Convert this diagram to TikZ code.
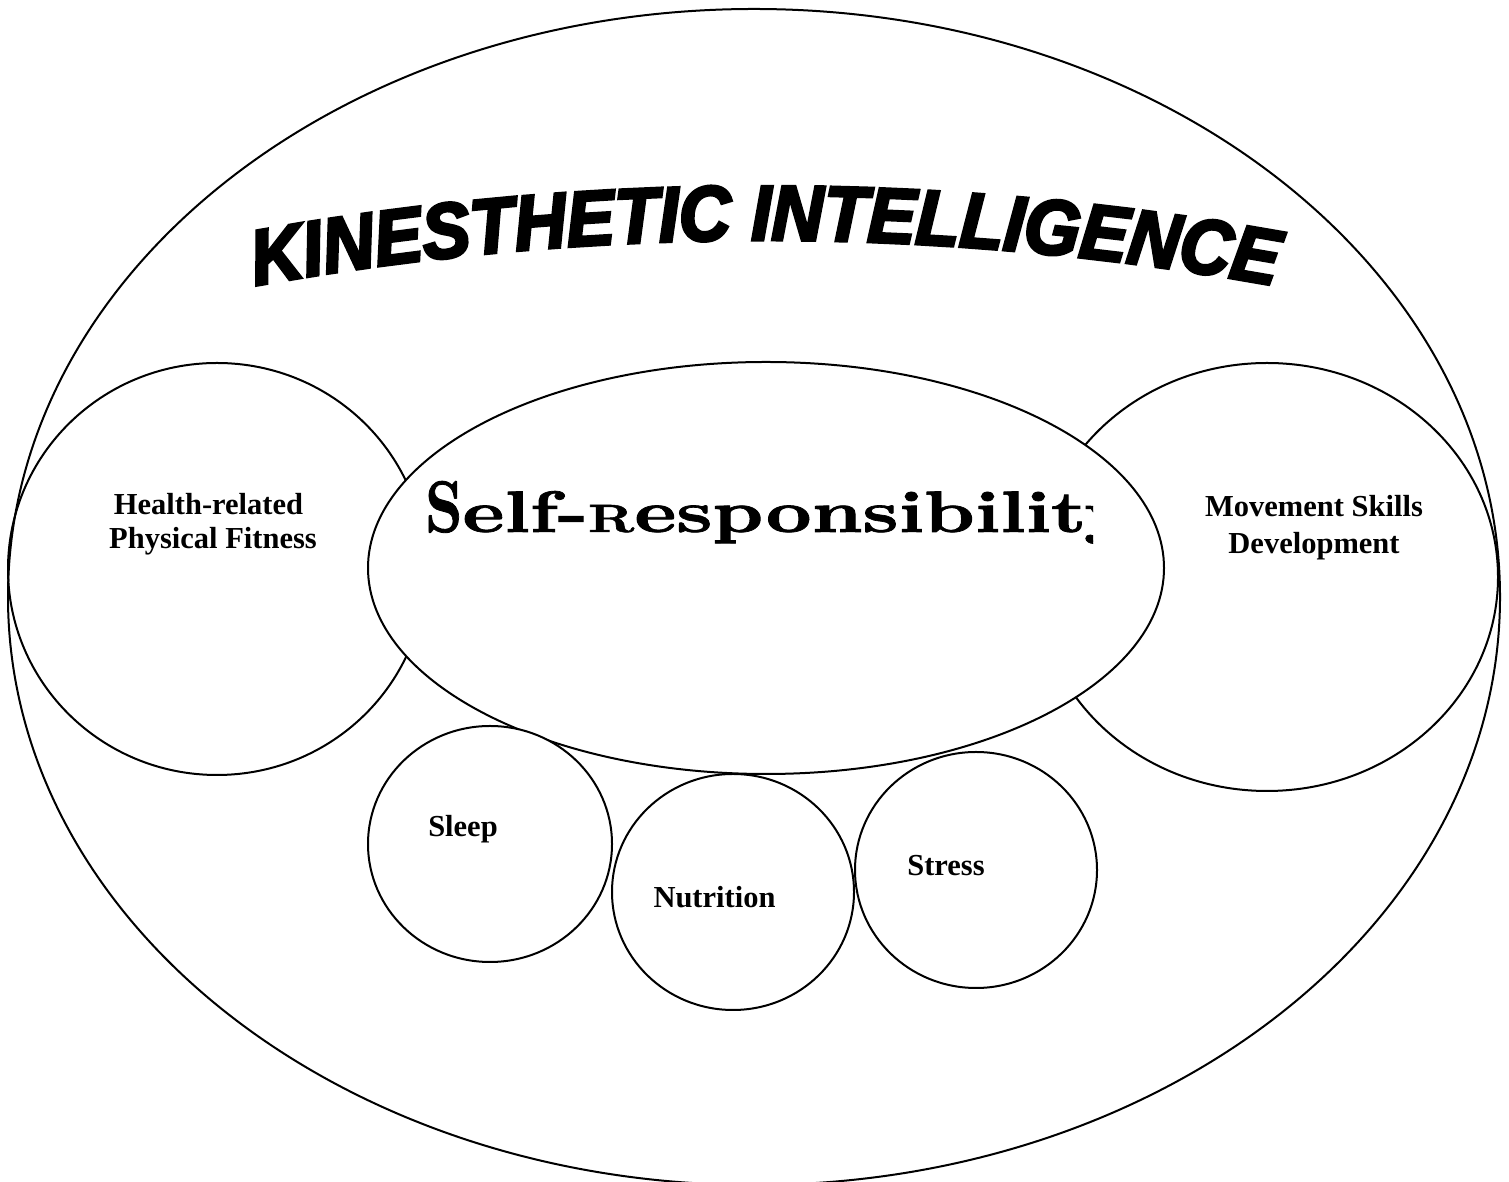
\documentclass[tikz,border=0pt]{standalone}
\usepackage{fontspec}
\usepackage{graphicx}
\usetikzlibrary{shapes.geometric,decorations.text}
\newfontfamily\lblfont{Liberation Serif}
\newfontfamily\kifont{Liberation Sans}[FakeBold=4, FakeStretch=0.92]
\newfontfamily\srfont{lmroman10-bold.otf}[FakeBold=1.2]
\begin{document}
\begin{tikzpicture}[x=1pt,y=1pt,
  ring/.style={draw, line width=2pt, ellipse, inner sep=0pt, outer sep=0pt},
  disc/.style={ring, fill=white},
  lbl/.style={font=\lblfont\bfseries\fontsize{30.5}{36}\selectfont, inner sep=0pt, anchor=base},
]
\useasboundingbox (0,0) rectangle (1509,1182);
\fill[white] (0,0) rectangle (1509,1182);

% outer field
\node[ring, minimum width=1492pt, minimum height=1176pt] (kinesthetic) at (754,585) {};

% side components
\node[ring, minimum width=418pt, minimum height=412pt] (fitness) at (217,613) {};
\node[ring, minimum width=462pt, minimum height=428pt] (movement) at (1267,605) {};

% core
\node[disc, minimum width=796pt, minimum height=412pt] (core) at (766,614) {};

% lifestyle factors
\node[disc, minimum width=244pt, minimum height=236pt] (sleep) at (490,338) {};
\node[disc, minimum width=242pt, minimum height=236pt] (nutrition) at (733,290) {};
\node[disc, minimum width=242pt, minimum height=236pt] (stress) at (976,312) {};

% labels
\node[lbl] (fitnessA) at (208.5,667) {Health-related};
\node[lbl] (fitnessB) at (213,633) {Physical Fitness};
\node[lbl] (movementA) at (1314,665) {Movement Skills};
\node[lbl] (movementB) at (1314,628) {Development};
\node[lbl] (sleepL) at (463,345) {Sleep};
\node[lbl] (nutritionL) at (714.5,274) {Nutrition};
\node[lbl] (stressL) at (946,306) {Stress};

% arched title
\path[decorate, decoration={text along path, text align=center,
  text={|\kifont\bfseries\itshape\fontsize{78}{84}\selectfont|KINESTHETIC INTELLIGENCE}}]
  (765,-1928) ++(102:2870pt) arc[start angle=102, end angle=78, radius=2870pt];

% core heading, cut at the right by its box
\begin{scope}
\clip (400,622) rectangle (1093,712);
\node[anchor=base west, inner sep=0pt] (selfresp) at (425,650)
  {{\srfont\fontsize{73}{80}\selectfont\scalebox{0.8}[1]{S}}\scalebox{1.36}[1]{\srfont\fontsize{58.5}{60}\selectfont elf-{\fontsize{39.4}{40}\selectfont R}esponsibility}};
\end{scope}
\end{tikzpicture}
\end{document}
